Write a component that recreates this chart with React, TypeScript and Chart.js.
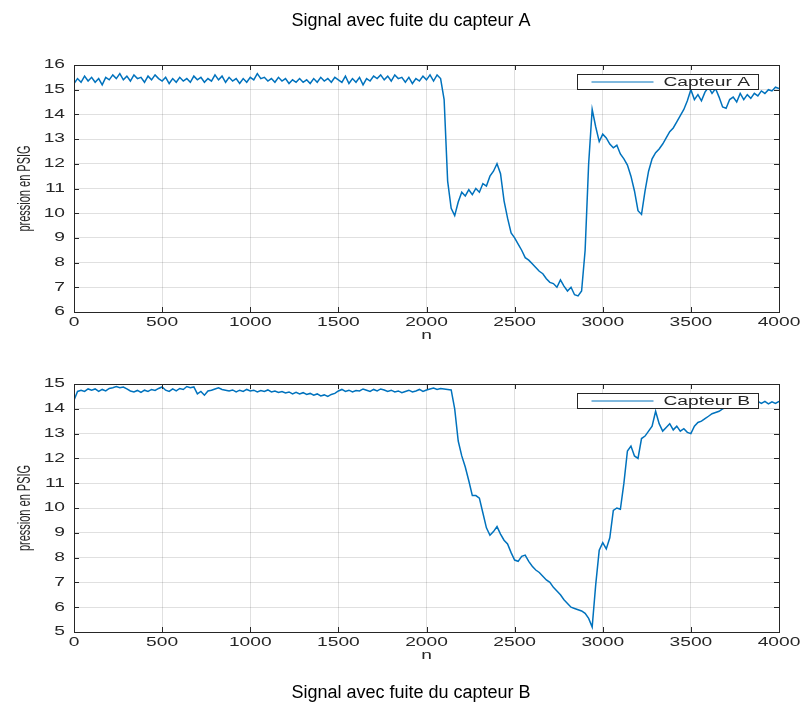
import React, { useEffect, useRef } from "react";
import { Chart, registerables } from "chart.js";

Chart.register(...registerables);

const STEP = 20;

const capteurA = [
  15.25, 15.45, 15.3, 15.55, 15.35, 15.5, 15.3, 15.45, 15.2, 15.5,
  15.4, 15.6, 15.45, 15.65, 15.4, 15.55, 15.35, 15.6, 15.45, 15.5,
  15.3, 15.55, 15.4, 15.6, 15.45, 15.35, 15.5, 15.25, 15.45, 15.3,
  15.5, 15.35, 15.45, 15.3, 15.55, 15.4, 15.5, 15.3, 15.45, 15.35,
  15.6, 15.4, 15.55, 15.3, 15.5, 15.35, 15.45, 15.25, 15.45, 15.3,
  15.5, 15.4, 15.65, 15.45, 15.5, 15.35, 15.45, 15.3, 15.5, 15.35,
  15.45, 15.25, 15.4, 15.3, 15.45, 15.3, 15.4, 15.25, 15.45, 15.3,
  15.5, 15.35, 15.45, 15.3, 15.5, 15.4, 15.3, 15.55, 15.25, 15.45,
  15.3, 15.5, 15.2, 15.45, 15.35, 15.55, 15.45, 15.6, 15.4, 15.55,
  15.35, 15.6, 15.45, 15.5, 15.3, 15.5, 15.25, 15.45, 15.35, 15.55,
  15.4, 15.6, 15.35, 15.6, 15.45, 14.6, 11.3, 10.2, 9.9, 10.45,
  10.85, 10.7, 10.95, 10.75, 11.0, 10.85, 11.2, 11.1, 11.5, 11.7,
  12.0, 11.6, 10.5, 9.8, 9.2, 9.0, 8.75, 8.5, 8.2, 8.1,
  7.95, 7.8, 7.65, 7.55, 7.35, 7.2, 7.15, 7.0, 7.3, 7.05,
  6.85, 7.0, 6.7, 6.65, 6.85, 8.5, 12.0, 14.2, 13.5, 12.9,
  13.2, 13.05, 12.8, 12.65, 12.75, 12.4, 12.2, 11.95, 11.5, 10.9,
  10.1, 9.95, 10.9, 11.7, 12.2, 12.45, 12.6, 12.8, 13.05, 13.3,
  13.45, 13.7, 13.95, 14.2, 14.55, 15.0, 14.6, 14.8, 14.55, 14.9,
  15.1, 14.85, 15.05, 14.7, 14.3, 14.25, 14.6, 14.7, 14.5, 14.85,
  14.6, 14.8, 14.65, 14.85, 14.75, 14.95, 14.85, 15.0, 14.95, 15.1,
  15.05,
];

const capteurB = [
  14.35, 14.7, 14.75, 14.7, 14.8, 14.75, 14.8, 14.7, 14.78, 14.72,
  14.82, 14.85, 14.9, 14.85, 14.88, 14.8, 14.72, 14.68, 14.74, 14.66,
  14.75, 14.7, 14.78, 14.74, 14.82, 14.88, 14.75, 14.7, 14.8, 14.72,
  14.82, 14.78, 14.9, 14.85, 14.88, 14.6, 14.7, 14.55, 14.72, 14.75,
  14.8, 14.85, 14.78, 14.75, 14.72, 14.76, 14.68, 14.75, 14.7, 14.78,
  14.72, 14.75, 14.68, 14.74, 14.7, 14.76, 14.68, 14.72, 14.66, 14.7,
  14.64, 14.68, 14.6, 14.66, 14.6, 14.65, 14.58, 14.62, 14.55, 14.6,
  14.52, 14.56, 14.5, 14.58, 14.62, 14.72, 14.78, 14.7, 14.75, 14.68,
  14.74, 14.72, 14.8, 14.75, 14.7, 14.78, 14.72, 14.8, 14.76, 14.7,
  14.75, 14.68, 14.72, 14.65, 14.7, 14.75, 14.68, 14.72, 14.78, 14.7,
  14.76, 14.8, 14.84, 14.78, 14.82, 14.8, 14.78, 14.76, 14.0, 12.7,
  12.1, 11.65, 11.1, 10.5, 10.5, 10.4, 9.8, 9.2, 8.9, 9.05,
  9.25, 8.95, 8.7, 8.55, 8.2, 7.9, 7.85, 8.05, 8.1, 7.85,
  7.65, 7.5, 7.4, 7.25, 7.1, 7.0, 6.8, 6.65, 6.5, 6.3,
  6.15, 6.0, 5.95, 5.9, 5.85, 5.75, 5.55, 5.2, 6.9, 8.3,
  8.6, 8.35, 8.8, 9.9, 10.0, 9.95, 11.0, 12.3, 12.5, 12.1,
  12.0, 12.8, 12.9, 13.1, 13.3, 13.9, 13.4, 13.1, 13.25, 13.4,
  13.15, 13.3, 13.1, 13.2, 13.05, 13.0, 13.3, 13.45, 13.5, 13.6,
  13.7, 13.8, 13.85, 13.9, 14.0, 14.05, 14.1, 14.1, 14.15, 14.2,
  14.15, 14.2, 14.25, 14.2, 14.3, 14.22, 14.3, 14.2, 14.28, 14.22,
  14.3,
];

const X_MIN = 0;
const X_MAX = 4000;
const X_STEP = 500;
const Y_RANGE_A = [6, 16];
const Y_RANGE_B = [5, 15];

const TITLE_A = "Signal avec fuite du capteur A";
const TITLE_B = "Signal avec fuite du capteur B";
const X_LABEL = "n";
const Y_LABEL = "pression en PSIG";
const LEGEND_A = "Capteur A";
const LEGEND_B = "Capteur B";

const LINE_COLOR = "#0072BD";
const AXIS_COLOR = "#262626";
const STRETCH = 1.6;

function toPoints(values: number[]) {
  return values.map((v, i) => ({ x: i * STEP, y: v }));
}

type PanelCfg = {
  values: number[];
  yRange: number[];
  legend: string;
  title: string;
  titlePos: "top" | "bottom";
  height: number;
  padTop: number;
  padBottom: number;
};

function makeDecor(cfg: PanelCfg) {
  return {
    id: "decor",
    afterDraw(chart: any) {
      const ctx = chart.ctx as CanvasRenderingContext2D;
      const ca = chart.chartArea;
      const xs = chart.scales.x;
      const ys = chart.scales.y;
      ctx.save();
      // box
      ctx.strokeStyle = AXIS_COLOR;
      ctx.lineWidth = 1;
      ctx.strokeRect(Math.round(ca.left) + 0.5, Math.round(ca.top) + 0.5, Math.round(ca.right - ca.left), Math.round(ca.bottom - ca.top));
      // inward ticks
      const tl = 5;
      ctx.beginPath();
      xs.ticks.forEach((t: any) => {
        const px = Math.round(xs.getPixelForValue(t.value)) + 0.5;
        ctx.moveTo(px, ca.bottom);
        ctx.lineTo(px, ca.bottom - tl);
        ctx.moveTo(px, ca.top);
        ctx.lineTo(px, ca.top + tl);
      });
      ys.ticks.forEach((t: any) => {
        const py = Math.round(ys.getPixelForValue(t.value)) + 0.5;
        ctx.moveTo(ca.left, py);
        ctx.lineTo(ca.left + tl, py);
        ctx.moveTo(ca.right, py);
        ctx.lineTo(ca.right - tl, py);
      });
      ctx.stroke();

      // tick labels (stretched)
      ctx.fillStyle = AXIS_COLOR;
      ctx.font = "12px 'Liberation Sans', Arial, sans-serif";
      ctx.textBaseline = "middle";
      xs.ticks.forEach((t: any) => {
        const px = xs.getPixelForValue(t.value);
        ctx.save();
        ctx.translate(px, ca.bottom + 11);
        ctx.scale(STRETCH, 1);
        ctx.textAlign = "center";
        ctx.fillText(String(t.value), 0, 0);
        ctx.restore();
      });
      ys.ticks.forEach((t: any) => {
        const py = ys.getPixelForValue(t.value);
        ctx.save();
        ctx.translate(ca.left - 9, py);
        ctx.scale(STRETCH, 1);
        ctx.textAlign = "right";
        ctx.fillText(String(t.value), 0, 0);
        ctx.restore();
      });

      // x label
      const cx = (ca.left + ca.right) / 2;
      ctx.save();
      ctx.translate(cx, ca.bottom + 24);
      ctx.scale(STRETCH, 1);
      ctx.textAlign = "center";
      ctx.fillText(X_LABEL, 0, 0);
      ctx.restore();

      // y label
      ctx.save();
      ctx.translate(25, (ca.top + ca.bottom) / 2);
      ctx.scale(STRETCH, 1);
      ctx.rotate(-Math.PI / 2);
      ctx.textAlign = "center";
      ctx.font = "11px 'Liberation Sans', Arial, sans-serif";
      ctx.fillText(Y_LABEL, 0, 0);
      ctx.restore();

      // legend
      const lw = 181;
      const lh = 15;
      const lx = Math.round(ca.right - 21 - lw) + 0.5;
      const ly = Math.round(ca.top + 9) + 0.5;
      ctx.fillStyle = "#ffffff";
      ctx.fillRect(lx, ly, lw, lh);
      ctx.strokeStyle = AXIS_COLOR;
      ctx.lineWidth = 1;
      ctx.strokeRect(lx, ly, lw, lh);
      ctx.strokeStyle = LINE_COLOR;
      ctx.lineWidth = 1;
      ctx.beginPath();
      ctx.moveTo(lx + 14, ly + lh / 2);
      ctx.lineTo(lx + 76, ly + lh / 2);
      ctx.stroke();
      ctx.fillStyle = AXIS_COLOR;
      ctx.font = "12px 'Liberation Sans', Arial, sans-serif";
      ctx.save();
      ctx.translate(lx + 86, ly + lh / 2 + 0.5);
      ctx.scale(STRETCH, 1);
      ctx.textAlign = "left";
      ctx.textBaseline = "middle";
      ctx.fillText(cfg.legend, 0, 0);
      ctx.restore();

      // title
      ctx.fillStyle = "#000000";
      ctx.font = "18px 'Liberation Sans', Arial, sans-serif";
      ctx.textAlign = "center";
      ctx.textBaseline = "middle";
      const ty = cfg.titlePos === "top" ? 21 : ca.bottom + 61;
      ctx.fillText(cfg.title, 411, ty);
      ctx.restore();
    },
  };
}

function Panel({ cfg, top }: { cfg: PanelCfg; top: number }) {
  const ref = useRef<HTMLCanvasElement>(null);
  useEffect(() => {
    if (!ref.current) return;
    const chart = new Chart(ref.current, {
      type: "line",
      data: {
        datasets: [
          {
            label: cfg.legend,
            data: toPoints(cfg.values),
            borderColor: LINE_COLOR,
            borderWidth: 1.5,
            pointRadius: 0,
            tension: 0,
            fill: false,
          },
        ],
      },
      options: {
        responsive: false,
        animation: false,
        maintainAspectRatio: false,
        parsing: false as any,
        layout: { padding: { left: 74, right: 24, top: cfg.padTop, bottom: cfg.padBottom } },
        plugins: { legend: { display: false }, tooltip: { enabled: false }, title: { display: false } },
        scales: {
          x: {
            type: "linear",
            min: X_MIN,
            max: X_MAX,
            ticks: { stepSize: X_STEP, display: false },
            grid: { color: "rgba(38,38,38,0.14)", drawTicks: false },
            border: { display: false },
            afterFit: (s: any) => {
              s.height = 0;
            },
          },
          y: {
            min: cfg.yRange[0],
            max: cfg.yRange[1],
            ticks: { stepSize: 1, display: false },
            grid: { color: "rgba(38,38,38,0.14)", drawTicks: false },
            border: { display: false },
            afterFit: (s: any) => {
              s.width = 0;
            },
          },
        },
      },
      plugins: [makeDecor(cfg)],
    } as any);
    return () => chart.destroy();
  }, []);
  return (
    <canvas
      ref={ref}
      width={803}
      height={cfg.height}
      style={{ position: "absolute", left: 0, top, width: 803, height: cfg.height }}
    />
  );
}

export default function App() {
  const cfgA: PanelCfg = {
    values: capteurA,
    yRange: Y_RANGE_A,
    legend: LEGEND_A,
    title: TITLE_A,
    titlePos: "top",
    height: 345,
    padTop: 65,
    padBottom: 33,
  };
  const cfgB: PanelCfg = {
    values: capteurB,
    yRange: Y_RANGE_B,
    legend: LEGEND_B,
    title: TITLE_B,
    titlePos: "bottom",
    height: 360,
    padTop: 39,
    padBottom: 73,
  };
  return (
    <div style={{ position: "fixed", left: 0, top: 0, width: 803, height: 705, background: "#fff" }}>
      <Panel cfg={cfgA} top={0} />
      <Panel cfg={cfgB} top={345} />
    </div>
  );
}
